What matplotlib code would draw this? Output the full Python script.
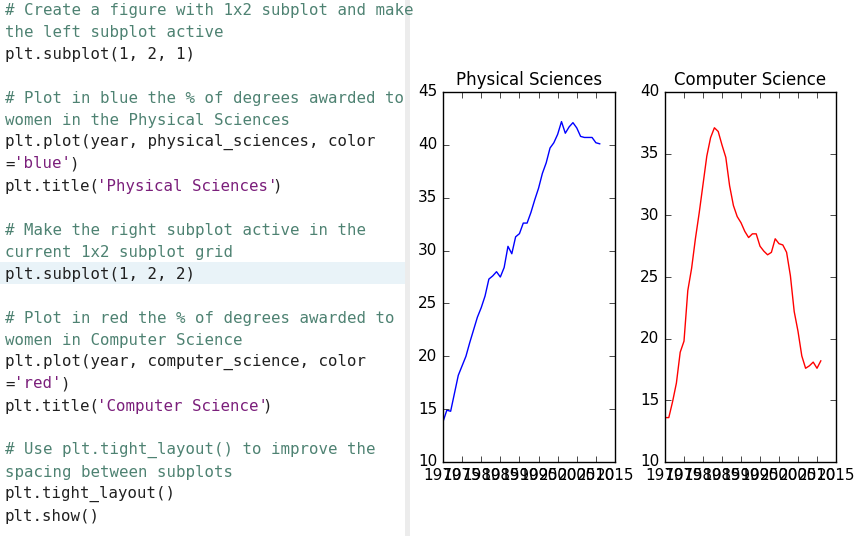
import matplotlib
matplotlib.use('Agg')
import matplotlib.pyplot as plt
from matplotlib.patches import Rectangle

year = list(range(1970, 2012))
physical_sciences = [13.8, 14.9, 14.8, 16.5, 18.2, 19.1, 20.0, 21.3, 22.5, 23.7,
                     24.6, 25.7, 27.3, 27.6, 28.0, 27.5, 28.4, 30.4, 29.7, 31.3,
                     31.6, 32.6, 32.6, 33.6, 34.8, 35.9, 37.3, 38.3, 39.7, 40.2,
                     41.0, 42.2, 41.1, 41.7, 42.1, 41.6, 40.8, 40.7, 40.7, 40.7,
                     40.2, 40.1]
computer_science = [13.6, 13.6, 14.9, 16.4, 18.9, 19.8, 23.9, 25.7, 28.1, 30.2,
                    32.5, 34.8, 36.3, 37.1, 36.8, 35.7, 34.7, 32.4, 30.8, 29.9,
                    29.4, 28.7, 28.2, 28.5, 28.5, 27.5, 27.1, 26.8, 27.0, 28.1,
                    27.7, 27.6, 27.0, 25.1, 22.2, 20.6, 18.6, 17.6, 17.8, 18.1,
                    17.6, 18.2]

# code listing: each line is a list of (text, kind)
C, K, S = 'comment', 'code', 'string'
code_lines = [
    [("# Create a figure with 1x2 subplot and make", C)],
    [("the left subplot active", C)],
    [("plt.subplot(1, 2, 1)", K)],
    [],
    [("# Plot in blue the % of degrees awarded to", C)],
    [("women in the Physical Sciences", C)],
    [("plt.plot(year, physical_sciences, color", K)],
    [("=", K), ("'blue'", S), (")", K)],
    [("plt.title(", K), ("'Physical Sciences'", S), (")", K)],
    [],
    [("# Make the right subplot active in the", C)],
    [("current 1x2 subplot grid", C)],
    [("plt.subplot(1, 2, 2)", K)],
    [],
    [("# Plot in red the % of degrees awarded to", C)],
    [("women in Computer Science", C)],
    [("plt.plot(year, computer_science, color", K)],
    [("=", K), ("'red'", S), (")", K)],
    [("plt.title(", K), ("'Computer Science'", S), (")", K)],
    [],
    [("# Use plt.tight_layout() to improve the", C)],
    [("spacing between subplots", C)],
    [("plt.tight_layout()", K)],
    [("plt.show()", K)],
]
colors = {C: '#4e8272', K: '#202020', S: '#7b1f7b'}

plt.style.use('classic')
W, H = 860, 536
fig = plt.figure(figsize=(W / 100, H / 100), dpi=100, facecolor='white')

# editor background pieces
fig.patches.append(Rectangle((0, 1 - 284 / H), 405 / W, 22 / H, transform=fig.transFigure,
                             facecolor='#e9f3f8', edgecolor='none'))
fig.patches.append(Rectangle((405 / W, 0), 5 / W, 1, transform=fig.transFigure,
                             facecolor='#ececec', edgecolor='none'))

charw = 9.2
for i, line in enumerate(code_lines):
    col = 0
    y = 1 - (10 + 22 * i) / H
    for txt, kind in line:
        fig.text((5 + col * charw) / W, y, txt, family='DejaVu Sans Mono', fontsize=11.3,
                 color=colors[kind], va='center', ha='left')
        col += len(txt)

ax1 = fig.add_axes([443 / W, 1 - 462 / H, 172 / W, 370 / H])
ax1.plot(year, physical_sciences, color='blue')
ax1.set_title('Physical Sciences', fontsize=12)
ax2 = fig.add_axes([665 / W, 1 - 462 / H, 171 / W, 370 / H])
ax2.plot(year, computer_science, color='red')
ax2.set_title('Computer Science', fontsize=12)
for ax in (ax1, ax2):
    ax.set_xlim(1970, 2015)
    ax.set_xticks(range(1970, 2016, 5))
    ax.ticklabel_format(useOffset=False, style='plain')
    ax.tick_params(labelsize=11)
ax1.set_ylim(10, 45)
ax2.set_ylim(10, 40)

fig.savefig('out.png', dpi=100, facecolor='white')
